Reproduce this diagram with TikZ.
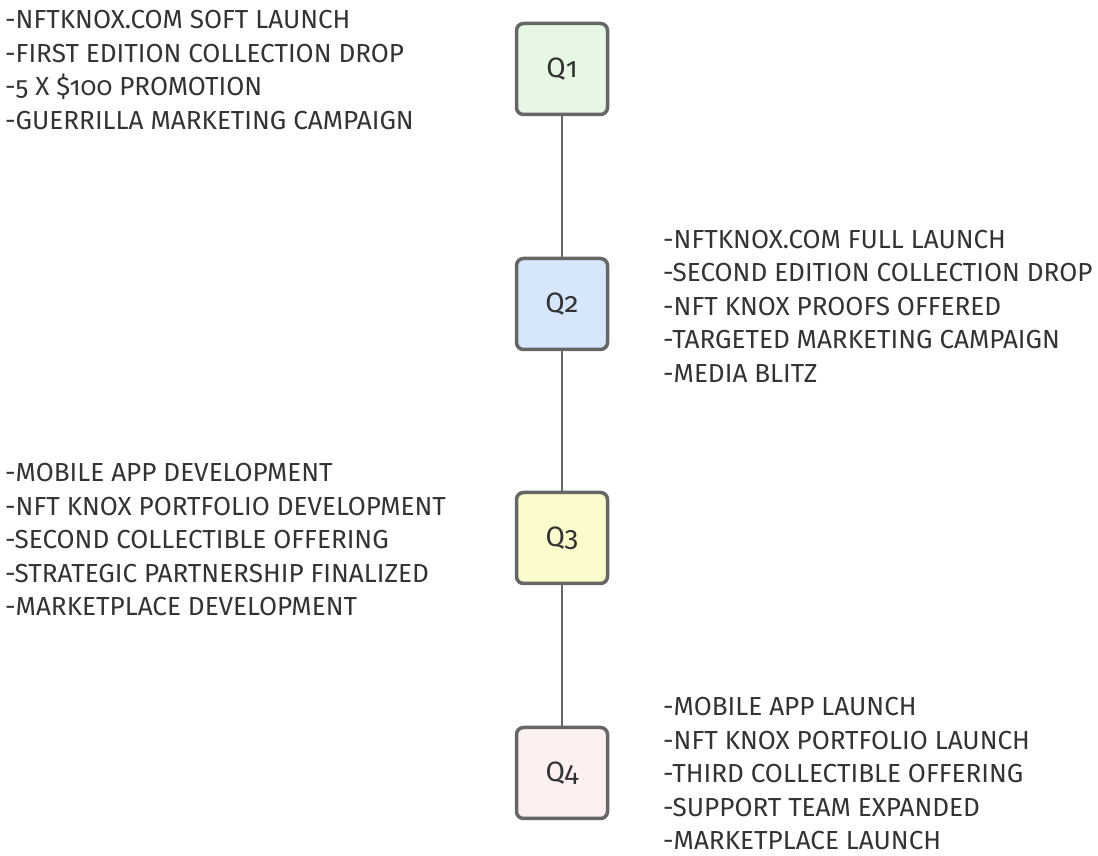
\documentclass[tikz,border=0pt]{standalone}
\usepackage{fontspec}
\setmainfont{Fira Sans}[Numbers=OldStyle]
\usepackage{xcolor}
\definecolor{edgegray}{HTML}{666666}
\definecolor{textgray}{HTML}{333333}
\definecolor{qgreen}{HTML}{E6F8E3}
\definecolor{qblue}{HTML}{D6E6FB}
\definecolor{qyellow}{HTML}{FBFBCB}
\definecolor{qpink}{HTML}{FCF0F0}
\tikzset{
    quarter-box/.style = {draw=edgegray, line width=3.5pt, rectangle, rounded corners=7pt, minimum width=91pt, minimum height=91pt, text=textgray, font=\fontsize{28}{30}\selectfont},
    quarter-notes/.style = {anchor=west, align=left, inner sep=0pt, text=textgray, font=\fontsize{26.1}{33.5}\selectfont},
    quarter-link/.style = {draw=edgegray, line width=2pt},
}

\begin{document}
\begin{tikzpicture}[x=1pt,y=1pt]
\useasboundingbox (0,0) rectangle (1098,856);
\node[quarter-box, fill=qgreen] (q1) at (562,787) {Q1};
\node[quarter-box, fill=qblue] (q2) at (562,552) {Q2};
\node[quarter-box, fill=qyellow] (q3) at (562,318) {Q3};
\node[quarter-box, fill=qpink] (q4) at (562,83) {Q4};
\draw[quarter-link] (q1) -- (q2);
\draw[quarter-link] (q2) -- (q3);
\draw[quarter-link] (q3) -- (q4);
% notes for each quarter
\node[quarter-notes] (n1) at (5,786) {-NFTKNOX.COM SOFT LAUNCH\\-FIRST EDITION COLLECTION DROP\\-5 X \$100 PROMOTION\\-GUERRILLA MARKETING CAMPAIGN};
\node[quarter-notes] (n2) at (663,550) {-NFTKNOX.COM FULL LAUNCH\\-SECOND EDITION COLLECTION DROP\\-NFT KNOX PROOFS OFFERED\\-TARGETED MARKETING CAMPAIGN\\-MEDIA BLITZ};
\node[quarter-notes] (n3) at (5,316) {-MOBILE APP DEVELOPMENT\\-NFT KNOX PORTFOLIO DEVELOPMENT\\-SECOND COLLECTIBLE OFFERING\\-STRATEGIC PARTNERSHIP FINALIZED\\-MARKETPLACE DEVELOPMENT};
\node[quarter-notes] (n4) at (663,82) {-MOBILE APP LAUNCH\\-NFT KNOX PORTFOLIO LAUNCH\\-THIRD COLLECTIBLE OFFERING\\-SUPPORT TEAM EXPANDED\\-MARKETPLACE LAUNCH};
\end{tikzpicture}
\end{document}
